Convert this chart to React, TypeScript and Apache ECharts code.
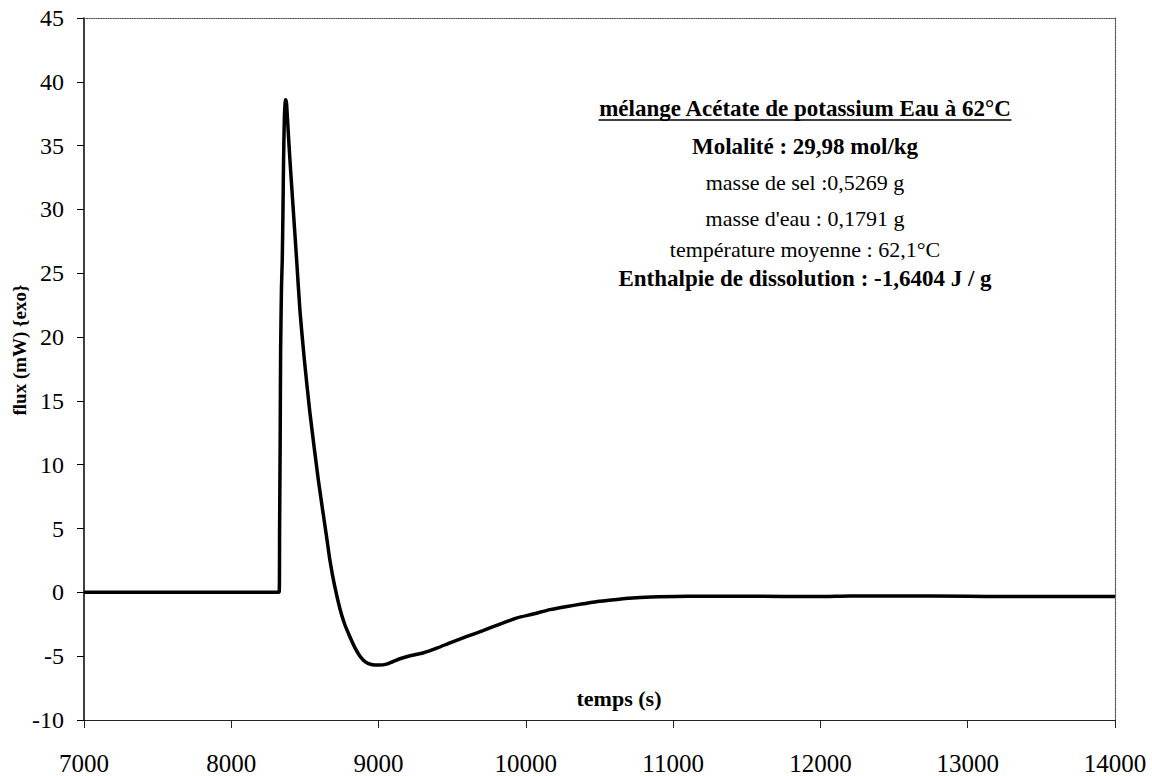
import React, { useEffect, useRef } from "react";
import * as echarts from "echarts";

const timeS: number[] = [
  7000, 7500, 8000, 8300, 8325, 8328, 8332, 8335, 8341, 8346, 8351, 8355, 8360, 8365, 8369,
  8375, 8382, 8398, 8421, 8444, 8466, 8495, 8534, 8591, 8647, 8670, 8700, 8738, 8770, 8806,
  8840, 8874, 8910, 8950, 9000, 9060, 9145, 9220, 9301, 9400, 9485, 9600, 9709, 9820, 9940,
  10050, 10163, 10280, 10388, 10500, 10618, 10750, 10900, 11100, 11500, 12000, 12200, 12500,
  13000, 13240, 13600, 14000,
];
const fluxMW: number[] = [
  0, 0, 0, 0, 0, 5, 12, 19, 24, 26, 30, 33.9, 37, 38.3, 38.6,
  38.3, 37.0, 33.9, 29.95, 26.0, 22.1, 18.35, 14.05, 8.8, 4.35, 2.5, 0.6, -1.3, -2.5, -3.5,
  -4.35, -5.0, -5.45, -5.65, -5.7, -5.6, -5.2, -4.95, -4.75, -4.35, -3.95, -3.45, -3.0, -2.5, -2.0,
  -1.7, -1.35, -1.1, -0.9, -0.7, -0.55, -0.42, -0.35, -0.3, -0.3, -0.33, -0.28, -0.28,
  -0.3, -0.33, -0.33, -0.33,
];
const xTicks = { min: 7000, max: 14000, interval: 1000 };
const yTicks = { min: -10, max: 45, interval: 5 };

const annotationLines: { text: string; bold: boolean; underline?: boolean }[] = [
  { text: "mélange Acétate de potassium Eau à 62°C", bold: true, underline: true },
  { text: "Molalité : 29,98 mol/kg", bold: true },
  { text: "masse de sel :0,5269 g", bold: false },
  { text: "masse d'eau : 0,1791 g", bold: false },
  { text: "température moyenne : 62,1°C", bold: false },
  { text: "Enthalpie de dissolution : -1,6404 J / g", bold: true },
];
const xAxisTitle = "temps (s)";
const yAxisTitle = "flux (mW) {exo}";

const FONT = "'Liberation Serif', 'Times New Roman', serif";

export default function App() {
  const ref = useRef<HTMLDivElement>(null);
  useEffect(() => {
    if (!ref.current) return;
    const chart = echarts.init(ref.current, undefined, { renderer: "svg" });
    const lineYs = [108, 146, 182, 218, 249, 278];
    const cx = 805;
    const canvas = document.createElement("canvas");
    const ctx = canvas.getContext("2d");
    const graphics: any[] = [];
    annotationLines.forEach((l, i) => {
      const fs = l.bold ? 23 : 22;
      graphics.push({
        type: "text",
        x: cx,
        y: lineYs[i],
        style: {
          text: l.text,
          fontFamily: FONT,
          fontSize: fs,
          fontWeight: l.bold ? "bold" : "normal",
          fill: "#000",
          textAlign: "center",
          textVerticalAlign: "middle",
        },
      });
      if (l.underline && ctx) {
        ctx.font = `${l.bold ? "bold " : ""}${fs}px ${FONT}`;
        const w = ctx.measureText(l.text).width;
        graphics.push({
          type: "line",
          shape: { x1: cx - w / 2, y1: lineYs[i] + 12, x2: cx + w / 2, y2: lineYs[i] + 12 },
          style: { stroke: "#000", lineWidth: 1.5 },
        });
      }
    });
    graphics.push({
      type: "text",
      x: 619,
      y: 698,
      style: {
        text: xAxisTitle,
        fontFamily: FONT,
        fontSize: 22,
        fontWeight: "bold",
        fill: "#000",
        textAlign: "center",
        textVerticalAlign: "middle",
      },
    });
    graphics.push({
      type: "text",
      x: 19,
      y: 350,
      rotation: Math.PI / 2,
      style: {
        text: yAxisTitle,
        fontFamily: FONT,
        fontSize: 19,
        fontWeight: "bold",
        fill: "#000",
        textAlign: "center",
        textVerticalAlign: "middle",
      },
    });

    chart.setOption({
      animation: false,
      backgroundColor: "#fff",
      grid: { left: 84, right: 37, top: 18, bottom: 56, containLabel: false },
      xAxis: [
        {
          type: "value",
          min: xTicks.min,
          max: xTicks.max,
          interval: xTicks.interval,
          axisLine: { onZero: false, lineStyle: { color: "#222", width: 1.2 } },
          axisTick: { inside: false, length: 8, lineStyle: { color: "#222" } },
          axisLabel: {
            margin: 31,
            fontFamily: FONT,
            fontSize: 25,
            color: "#000",
            formatter: (v: number) => String(v),
          },
          splitLine: { show: false },
        },
        {
          type: "value",
          position: "top",
          min: xTicks.min,
          max: xTicks.max,
          axisLine: { show: true, onZero: false, lineStyle: { color: "#555", type: "dotted", width: 1.2 } },
          axisTick: { show: false },
          axisLabel: { show: false },
          splitLine: { show: false },
        },
      ],
      yAxis: [
        {
          type: "value",
          min: yTicks.min,
          max: yTicks.max,
          interval: yTicks.interval,
          axisLine: { show: true, onZero: false, lineStyle: { color: "#000", width: 1.5 } },
          axisTick: { show: true, inside: false, length: 7, lineStyle: { color: "#000" } },
          axisLabel: {
            margin: 20,
            fontFamily: FONT,
            fontSize: 24,
            color: "#000",
            formatter: (v: number) => String(v),
          },
          splitLine: { show: false },
        },
        {
          type: "value",
          position: "right",
          min: yTicks.min,
          max: yTicks.max,
          axisLine: { show: true, onZero: false, lineStyle: { color: "#555", type: "dotted", width: 1.2 } },
          axisTick: { show: false },
          axisLabel: { show: false },
          splitLine: { show: false },
        },
      ],
      series: [
        {
          type: "line",
          xAxisIndex: 0,
          yAxisIndex: 0,
          data: timeS.map((t, i) => [t, fluxMW[i]]),
          showSymbol: false,
          symbol: "none",
          smooth: 0.2,
          lineStyle: { color: "#000", width: 3.5, join: "round" },
          z: 5,
        },
      ],
      graphic: graphics,
    });
    return () => chart.dispose();
  }, []);
  return (
    <div
      ref={ref}
      style={{ position: "fixed", left: 0, top: 0, width: 1152, height: 776, background: "#fff" }}
    />
  );
}
